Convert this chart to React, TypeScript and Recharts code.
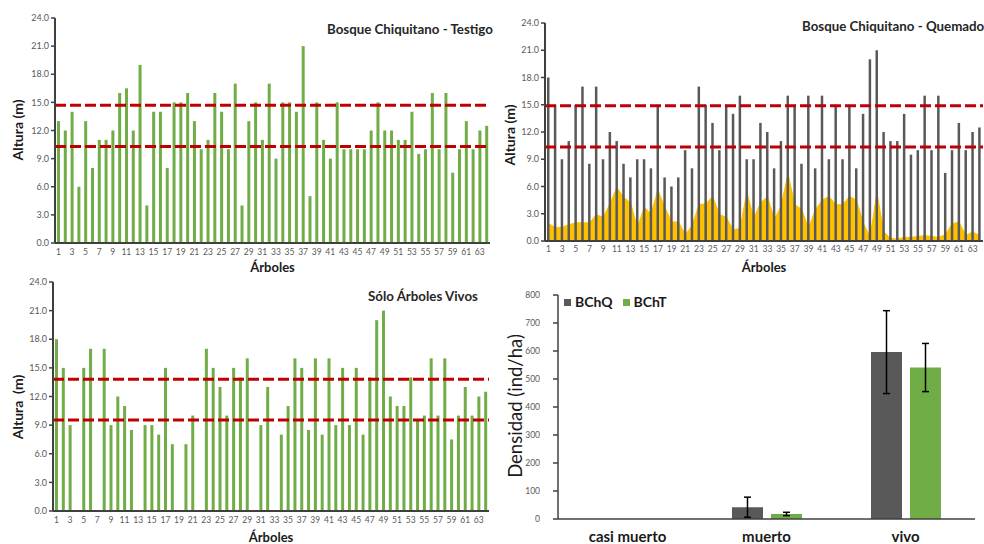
import React from 'react';
import {
  Area,
  Bar,
  BarChart,
  ComposedChart,
  ErrorBar,
  Label,
  Legend,
  ReferenceLine,
  XAxis,
  YAxis,
} from 'recharts';

// tree number on the x axis, 1..64
const arboles = Array.from({ length: 64 }, (_, i) => String(i + 1));
const alturaTicks = [0, 3, 6, 9, 12, 15, 18, 21, 24];

// Bosque Chiquitano - Testigo (m)
const alturaTestigo = [
  13, 12, 14, 6, 13, 8, 11, 11, 12, 16, 16.5, 12, 19, 4, 14, 14, 8, 15, 15, 16,
  13, 10, 11, 16, 14, 10, 17, 4, 13, 15, 11, 17, 9, 15, 15, 14, 21, 5, 15, 11,
  9, 15, 10, 10, 10, 10, 12, 15, 12, 12, 11, 11, 14, 9.5, 10, 16, 10, 16, 7.5, 10,
  13, 10, 12, 12.5,
];

// Bosque Chiquitano - Quemado (m)
const alturaQuemado = [
  18, 15, 9, 11, 15, 17, 8.5, 17, 9, 12, 11, 8.5, 7, 9, 9, 8, 15, 7, 6, 7,
  10, 8, 17, 15, 13, 10, 15, 14, 16, 9, 9, 13, 12, 8, 11, 16, 15, 8.5, 16, 8,
  16, 9, 15, 9, 15, 8, 14, 20, 21, 12, 11, 11, 14, 9.5, 10, 16, 10, 16, 7.5, 10,
  13, 10, 12, 12.5,
];

// char height on the burned trunks (m), orange area
const alturaQuema = [
  1.9, 1.5, 1.5, 1.8, 2.0, 2.0, 2.0, 2.9, 2.6, 4.1, 5.9, 4.8, 4.2, 1.5, 3.7, 3.0, 5.6, 3.7, 2.1, 2.1,
  0.7, 1.7, 4.0, 4.1, 4.9, 2.9, 2.6, 1.2, 1.4, 5.4, 2.5, 4.2, 4.9, 2.4, 3.8, 7.4, 4.0, 3.5, 1.4, 3.4,
  4.5, 4.9, 4.0, 4.0, 4.9, 4.5, 2.0, 0.4, 5.3, 1.0, 0.3, 0.2, 0.4, 0.4, 0.5, 0.6, 0.5, 0.4, 0.7, 1.9,
  2.1, 0.6, 1.0, 0.6,
];

// Sólo árboles vivos (m), 0 = dead tree
const alturaVivos = [
  18, 15, 9, 0, 15, 17, 0, 17, 9, 12, 11, 8.5, 0, 9, 9, 8, 15, 7, 0, 7,
  10, 0, 17, 15, 13, 10, 15, 14, 16, 0, 9, 13, 0, 8, 11, 16, 15, 8.5, 16, 8,
  16, 9, 15, 9, 15, 8, 14, 20, 21, 12, 11, 11, 14, 9.5, 10, 16, 10, 16, 7.5, 10,
  13, 10, 12, 12.5,
];

// dashed reference heights [upper, lower]
const refTestigo = [14.7, 10.3];
const refQuemado = [14.9, 10.35];
const refVivos = [13.8, 9.55];

// density by state
const estados = ['casi muerto', 'muerto', 'vivo'];
const densidadBChQ = [0, 42, 596];
const errorBChQ = [0, 36, 148];
const densidadBChT = [0, 18, 541];
const errorBChT = [0, 6, 86];
const densidadTicks = [0, 100, 200, 300, 400, 500, 600, 700, 800];

const testigoData = arboles.map((arbol, i) => ({ arbol, altura: alturaTestigo[i] }));
const quemadoData = arboles.map((arbol, i) => ({
  arbol,
  altura: alturaQuemado[i],
  quema: alturaQuema[i],
}));
const vivosData = arboles.map((arbol, i) => ({ arbol, altura: alturaVivos[i] }));
const densidadData = estados.map((estado, i) => ({
  estado,
  BChQ: densidadBChQ[i],
  errQ: errorBChQ[i],
  BChT: densidadBChT[i],
  errT: errorBChT[i],
}));

const FONT = 'Lato, "Open Sans", sans-serif';
const GREEN = '#70AD47';
const GRAY = '#595959';
const RED = '#C00000';
const AXIS = '#404040';

function Title({ text, left, cy, size = 13.3 }: { text: string; left: number; cy: number; size?: number }) {
  return (
    <div
      style={{
        position: 'absolute',
        left,
        top: cy - size / 2,
        fontSize: size,
        lineHeight: `${size}px`,
        fontWeight: 700,
        color: '#262626',
        whiteSpace: 'pre',
      }}
    >
      {text}
    </div>
  );
}

function VerticalTitle({
  text,
  cx,
  cy,
  size = 14,
  bold = true,
}: {
  text: string;
  cx: number;
  cy: number;
  size?: number;
  bold?: boolean;
}) {
  return (
    <div
      style={{
        position: 'absolute',
        left: cx,
        top: cy,
        transform: 'translate(-50%, -50%) rotate(-90deg)',
        fontSize: size,
        lineHeight: `${size}px`,
        fontWeight: bold ? 700 : 400,
        color: '#1a1a1a',
        whiteSpace: 'pre',
      }}
    >
      {text}
    </div>
  );
}

function alturaYAxis(width: number) {
  return (
    <YAxis
      domain={[0, 24]}
      ticks={alturaTicks}
      interval={0}
      tickFormatter={(v: number) => v.toFixed(1)}
      width={width}
      tick={{ fill: GRAY, fontSize: 9 }}
      tickSize={4}
      tickMargin={2}
      axisLine={{ stroke: AXIS, strokeWidth: 2 }}
      tickLine={{ stroke: AXIS, strokeWidth: 1.5 }}
    />
  );
}

function arbolesXAxis(height: number, tickSize: number, labelOffset: number) {
  return (
    <XAxis
      dataKey="arbol"
      interval={1}
      height={height}
      tickLine={false}
      tickSize={tickSize}
      tickMargin={2}
      tick={{ fill: GRAY, fontSize: 8.5 }}
      axisLine={{ stroke: AXIS, strokeWidth: 2 }}
    >
      <Label
        value="Árboles"
        position="insideBottom"
        offset={labelOffset}
        style={{ fontWeight: 700, fontSize: 13, fill: '#1a1a1a' }}
      />
    </XAxis>
  );
}

function refLines(values: number[]) {
  return values.map((y) => (
    <ReferenceLine key={y} y={y} stroke={RED} strokeWidth={3} strokeDasharray="11 4" />
  ));
}

export default function App() {
  return (
    <div
      style={{
        position: 'absolute',
        left: 0,
        top: 0,
        width: 984,
        height: 544,
        overflow: 'hidden',
        background: '#fff',
        fontFamily: FONT,
      }}
    >
      {/* Testigo */}
      <div style={{ position: 'absolute', left: 0, top: 0 }}>
        <BarChart width={500} height={275} data={testigoData} margin={{ top: 18, right: 10, left: 0, bottom: 0 }}>
          {arbolesXAxis(32, 4, 3)}
          {alturaYAxis(55)}
          <Bar dataKey="altura" fill={GREEN} barSize={3} isAnimationActive={false} />
          {refLines(refTestigo)}
        </BarChart>
      </div>

      {/* Quemado */}
      <div style={{ position: 'absolute', left: 490, top: 0 }}>
        <ComposedChart width={494} height={275} data={quemadoData} margin={{ top: 23, right: 1, left: 0, bottom: 0 }}>
          {arbolesXAxis(34, 3, 3)}
          {alturaYAxis(55)}
          <Area
            type="linear"
            dataKey="quema"
            stroke="#FFC000"
            fill="#FFC000"
            fillOpacity={1}
            dot={false}
            activeDot={false}
            isAnimationActive={false}
          />
          <Bar dataKey="altura" fill={GRAY} barSize={2.5} isAnimationActive={false} />
          {refLines(refQuemado)}
        </ComposedChart>
      </div>

      {/* Sólo árboles vivos */}
      <div style={{ position: 'absolute', left: 0, top: 270 }}>
        <BarChart width={500} height={274} data={vivosData} margin={{ top: 12, right: 11, left: 0, bottom: 0 }}>
          {arbolesXAxis(33, 4, 2)}
          {alturaYAxis(53)}
          <Bar dataKey="altura" fill={GREEN} barSize={3} isAnimationActive={false} />
          {refLines(refVivos)}
        </BarChart>
      </div>

      {/* Densidad */}
      <div style={{ position: 'absolute', left: 490, top: 280 }}>
        <BarChart
          width={494}
          height={264}
          data={densidadData}
          margin={{ top: 15, right: 9, left: 0, bottom: 0 }}
          barGap={8}
        >
          <XAxis
            dataKey="estado"
            interval={0}
            height={25}
            tickLine={false}
            tickSize={0}
            tickMargin={12}
            tick={{ fill: '#1a1a1a', fontSize: 15, fontWeight: 700 }}
            axisLine={{ stroke: AXIS, strokeWidth: 1.5 }}
          />
          <YAxis
            domain={[0, 800]}
            ticks={densidadTicks}
            interval={0}
            width={68}
            tick={{ fill: GRAY, fontSize: 8.5 }}
            tickSize={5}
            tickMargin={13}
            axisLine={{ stroke: AXIS, strokeWidth: 1.5 }}
            tickLine={{ stroke: AXIS, strokeWidth: 1.5 }}
          />
          <Legend
            layout="horizontal"
            verticalAlign="middle"
            align="center"
            iconType="square"
            iconSize={7}
            wrapperStyle={{ left: 74, top: 13, width: 'auto', lineHeight: '16px' }}
            formatter={(value: string) => (
              <span style={{ color: '#1a1a1a', fontWeight: 700, fontSize: 14 }}>{value}</span>
            )}
          />
          <Bar dataKey="BChQ" fill={GRAY} barSize={31} isAnimationActive={false}>
            <ErrorBar dataKey="errQ" width={3.5} strokeWidth={1.5} stroke="#000" direction="y" />
          </Bar>
          <Bar dataKey="BChT" fill={GREEN} barSize={31} isAnimationActive={false}>
            <ErrorBar dataKey="errT" width={3.5} strokeWidth={1.5} stroke="#000" direction="y" />
          </Bar>
        </BarChart>
      </div>

      <Title text="Bosque Chiquitano - Testigo" left={327} cy={30} />
      <Title text="Bosque Chiquitano - Quemado" left={802} cy={27} />
      <Title text="Sólo Árboles Vivos" left={368} cy={297} />

      <VerticalTitle text="Altura (m)" cx={18} cy={130} />
      <VerticalTitle text="Altura (m)" cx={510} cy={135} />
      <VerticalTitle text="Altura  (m)" cx={18} cy={407} />
      <VerticalTitle text="Densidad (ind/ha)" cx={515} cy={406} size={18.5} bold={false} />
    </div>
  );
}
